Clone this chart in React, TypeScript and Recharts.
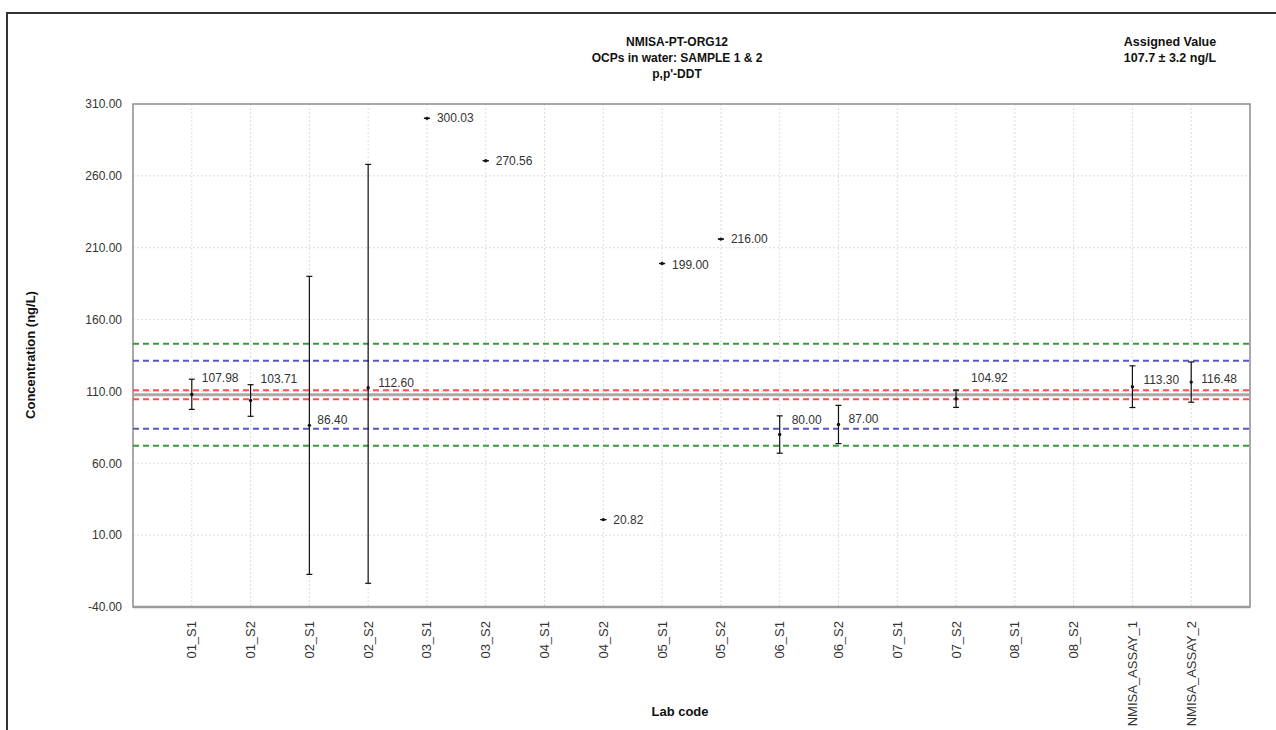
import React from 'react';
import {
  ScatterChart,
  Scatter,
  XAxis,
  YAxis,
  CartesianGrid,
  ErrorBar,
  ReferenceLine,
  ReferenceArea,
} from 'recharts';

// lab codes along the x axis
const LAB_CODES = [
  '01_S1', '01_S2', '02_S1', '02_S2', '03_S1', '03_S2', '04_S1', '04_S2', '05_S1',
  '05_S2', '06_S1', '06_S2', '07_S1', '07_S2', '08_S1', '08_S2', 'NMISA_ASSAY_1', 'NMISA_ASSAY_2',
];

// reported results (labs without a result are left out)
const RESULT_CODES = [
  '01_S1', '01_S2', '02_S1', '02_S2', '03_S1', '03_S2', '04_S2', '05_S1', '05_S2',
  '06_S1', '06_S2', '07_S2', 'NMISA_ASSAY_1', 'NMISA_ASSAY_2',
];
const RESULTS = [107.98, 103.71, 86.4, 112.6, 300.03, 270.56, 20.82, 199.0, 216.0, 80.0, 87.0, 104.92, 113.3, 116.48];
// ends of the uncertainty bars
const LOWER = [97.5, 92.7, -17.3, -23.5, 300.03, 270.56, 20.82, 199.0, 216.0, 67.0, 73.7, 98.9, 98.8, 102.5];
const UPPER = [118.5, 114.7, 190.1, 268.0, 300.03, 270.56, 20.82, 199.0, 216.0, 93.0, 100.3, 110.9, 127.8, 130.5];

const Y_TICKS = [-40, 10, 60, 110, 160, 210, 260, 310];

const ASSIGNED = 107.7;
const ASSIGNED_U = 3.2;
const INNER_LIMITS = [84.0, 131.4];
const OUTER_LIMITS = [72.2, 143.2];

// label placement next to each point (px), Excel nudged some of them
const LABEL_OFFSET = [
  [10, -16], [10, -21], [8, -5], [10, -5], [10, 0], [10, 0], [10, 0], [10, 1], [10, 0],
  [12, -15], [10, -5], [15, -21], [11, -7], [10, -3],
];

const data = RESULT_CODES.map((code, i) => ({
  x: LAB_CODES.indexOf(code) + 1,
  y: RESULTS[i],
  err: [RESULTS[i] - LOWER[i], UPPER[i] - RESULTS[i]],
  i,
}));

const FONT = '"Liberation Sans", Arial, sans-serif';

const XTick = (props: any) => {
  const { x, y, payload } = props;
  return (
    <text
      x={x}
      y={y + 6}
      transform={`rotate(-90, ${x}, ${y + 6})`}
      textAnchor="end"
      dominantBaseline="central"
      fontSize={13}
      fontFamily={FONT}
      fill="#333"
    >
      {LAB_CODES[payload.value - 1]}
    </text>
  );
};

const renderPoint = (props: any) => {
  const { cx, cy, payload } = props;
  const [dx, dy] = LABEL_OFFSET[payload.i];
  return (
    <g>
      <circle cx={cx} cy={cy} r={1.7} fill="#111" />
      <text
        x={cx + dx}
        y={cy + dy}
        dominantBaseline="central"
        fontSize={12}
        fontFamily={FONT}
        fill="#333"
      >
        {payload.y.toFixed(2)}
      </text>
    </g>
  );
};

const dash = '6 4';

export default function App() {
  return (
    <div
      style={{
        position: 'absolute',
        left: 0,
        top: 0,
        width: 1276,
        height: 730,
        overflow: 'hidden',
        background: '#fff',
        fontFamily: FONT,
        color: '#111',
      }}
    >
      <div
        style={{
          position: 'absolute',
          left: 6,
          top: 12,
          width: 1400,
          height: 900,
          border: '2px solid #333',
        }}
      />
      <div style={{ position: 'absolute', left: 0, top: 0 }}>
        <ScatterChart width={1276} height={730} margin={{ top: 104, right: 26, bottom: 0, left: 0 }}>
          <CartesianGrid strokeDasharray="2 2" stroke="#dcdcdc" />
          <XAxis
            type="number"
            dataKey="x"
            domain={[0, 19]}
            ticks={LAB_CODES.map((_, i) => i + 1)}
            interval={0}
            tick={<XTick />}
            tickLine={false}
            axisLine={{ stroke: '#9a9a9a', strokeWidth: 2.5 }}
            height={123}
            allowDataOverflow
          />
          <YAxis
            type="number"
            dataKey="y"
            domain={[-40, 310]}
            ticks={Y_TICKS}
            interval={0}
            tickFormatter={(v: number) => v.toFixed(2)}
            tick={{ fontSize: 12, fontFamily: FONT, fill: '#333' }}
            tickLine={false}
            tickSize={0}
            tickMargin={11}
            axisLine={false}
            width={133}
            allowDataOverflow
          />
          <ReferenceArea
            x1={0}
            x2={19}
            y1={-40}
            y2={310}
            fill="none"
            stroke="#8f8f8f"
            strokeWidth={1.5}
            ifOverflow="visible"
          />
          <ReferenceLine y={OUTER_LIMITS[1]} stroke="#3a9a3a" strokeWidth={2} strokeDasharray={dash} />
          <ReferenceLine y={INNER_LIMITS[1]} stroke="#5757c8" strokeWidth={2} strokeDasharray={dash} />
          <ReferenceLine y={ASSIGNED} stroke="#a8a8a8" strokeWidth={3} />
          <ReferenceLine y={ASSIGNED + ASSIGNED_U} stroke="#ff4d4d" strokeWidth={2} strokeDasharray={dash} />
          <ReferenceLine y={ASSIGNED - ASSIGNED_U} stroke="#ff4d4d" strokeWidth={2} strokeDasharray={dash} />
          <ReferenceLine y={INNER_LIMITS[0]} stroke="#5757c8" strokeWidth={2} strokeDasharray={dash} />
          <ReferenceLine y={OUTER_LIMITS[0]} stroke="#3a9a3a" strokeWidth={2} strokeDasharray={dash} />
          <Scatter data={data} shape={renderPoint} isAnimationActive={false}>
            <ErrorBar dataKey="err" direction="y" width={3} stroke="#111" strokeWidth={1.2} />
          </Scatter>
        </ScatterChart>
      </div>
      <div
        style={{
          position: 'absolute',
          left: 577,
          top: 34,
          width: 200,
          textAlign: 'center',
          fontSize: 12,
          fontWeight: 'bold',
          lineHeight: '16px',
        }}
      >
        <div>NMISA-PT-ORG12</div>
        <div>OCPs in water: SAMPLE 1 &amp; 2</div>
        <div>p,p'-DDT</div>
      </div>
      <div
        style={{
          position: 'absolute',
          left: 1100,
          top: 34,
          width: 140,
          textAlign: 'center',
          fontSize: 12.5,
          fontWeight: 'bold',
          lineHeight: '16px',
        }}
      >
        <div>Assigned Value</div>
        <div>107.7 ± 3.2 ng/L</div>
      </div>
      <div
        style={{
          position: 'absolute',
          left: 30,
          top: 355,
          transform: 'translate(-50%, -50%) rotate(-90deg)',
          whiteSpace: 'nowrap',
          fontSize: 13,
          fontWeight: 'bold',
        }}
      >
        Concentration (ng/L)
      </div>
      <div
        style={{
          position: 'absolute',
          left: 680,
          top: 711,
          transform: 'translate(-50%, -50%)',
          whiteSpace: 'nowrap',
          fontSize: 13,
          fontWeight: 'bold',
        }}
      >
        Lab code
      </div>
    </div>
  );
}
